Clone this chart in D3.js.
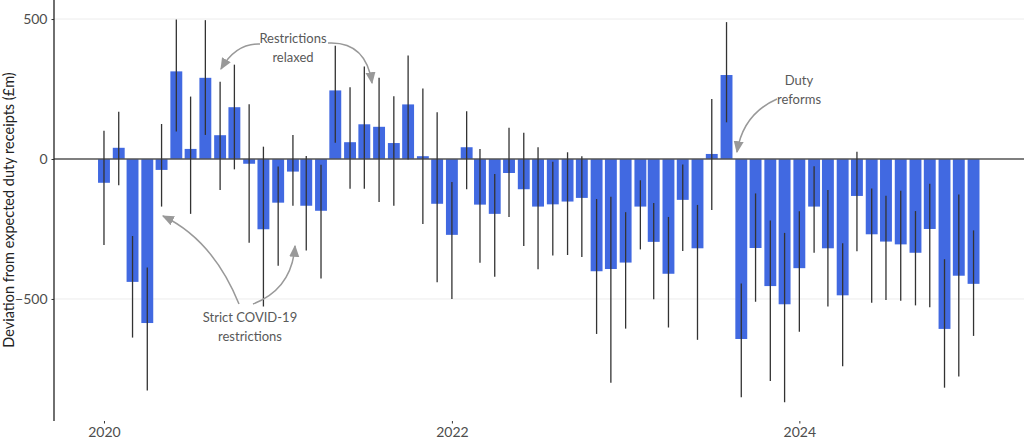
<!DOCTYPE html>
<html>
<head>
<meta charset="utf-8">
<script src="https://cdn.jsdelivr.net/npm/d3@7"></script>
<style>
  html, body { margin: 0; padding: 0; background: #fff; }
  svg { display: block; font-family: Lato, "Open Sans", sans-serif; }
</style>
</head>
<body>
<svg id="chart" width="1024" height="439"></svg>
<script>
// ---- data ----
const months = [
  "2020-01","2020-02","2020-03","2020-04","2020-05","2020-06","2020-07","2020-08","2020-09","2020-10","2020-11","2020-12",
  "2021-01","2021-02","2021-03","2021-04","2021-05","2021-06","2021-07","2021-08","2021-09","2021-10","2021-11","2021-12",
  "2022-01","2022-02","2022-03","2022-04","2022-05","2022-06","2022-07","2022-08","2022-09","2022-10","2022-11","2022-12",
  "2023-01","2023-02","2023-03","2023-04","2023-05","2023-06","2023-07","2023-08","2023-09","2023-10","2023-11","2023-12",
  "2024-01","2024-02","2024-03","2024-04","2024-05","2024-06","2024-07","2024-08","2024-09","2024-10","2024-11","2024-12",
  "2025-01"
];
const deviation = [
  -85, 40, -439, -586, -39, 313, 36, 290, 85, 185, -17, -251,
  -156, -45, -167, -185, 245, 60, 124, 115, 57, 195, 10, -160,
  -271, 42, -163, -196, -50, -108, -170, -162, -152, -139, -401, -393,
  -370, -170, -296, -410, -146, -319, 18, 300, -643, -318, -454, -519,
  -390, -170, -319, -487, -132, -269, -295, -305, -335, -250, -607, -417,
  -446
];
const upper = [
  101, 169, -275, -388, 125, 498, 223, 496, 276, 337, 196, 44,
  -27, 86, 11, -21, 405, 256, 330, 290, 224, 370, 252, 167,
  -82, 171, 36, -54, 112, 94, 42, -10, 24, 10, -143, -135,
  -190, -76, -157, -207, -20, -164, 214, 489, -445, -123, -220, -264,
  -187, -26, -111, -301, 26, -105, -131, -113, -186, -88, -358, -127,
  -255
];
const lower = [
  -307, -94, -638, -827, -170, 98, -196, 86, -111, -37, -299, -527,
  -381, -167, -327, -427, 58, -106, -106, -154, -167, -2, -232, -440,
  -500, -108, -371, -421, -207, -311, -394, -345, -343, -350, -625, -799,
  -606, -323, -501, -602, -329, -646, -182, 131, -851, -510, -793, -869,
  -617, -335, -527, -740, -330, -514, -504, -506, -523, -530, -817, -777,
  -632
];
const yTicks = [-500, 0, 500];
const xTickYears = ["2020", "2022", "2024"];
const annotations = [
  { lines: ["Restrictions", "relaxed"], x: 293, y: 43 },
  { lines: ["Strict COVID-19", "restrictions"], x: 250, y: 322 },
  { lines: ["Duty", "reforms"], x: 799, y: 85 }
];
// arrows: [start, control, end] in pixel space of the annotation layer
const arrows = [
  [[260, 44], [236, 43], [221, 69]],
  [[328, 43], [366, 41], [372, 83]],
  [[239, 304], [213, 240], [163, 216]],
  [[253, 304], [292, 289], [295, 246]],
  [[777, 99], [743, 114], [737, 152]]
];

// ---- chart ----
const parse = d3.timeParse("%Y-%m");
const data = months.map((m, i) => ({
  date: parse(m), value: deviation[i], hi: upper[i], lo: lower[i]
}));

const svg = d3.select("#chart");
const plotLeft = 54, plotRight = 1024, plotTop = 0, plotBottom = 421;

const x = d3.scaleTime()
  .domain([new Date(2019, 8, 18), new Date(2025, 3, 17)])
  .range([plotLeft, plotRight]);
const y = d3.scaleLinear()
  .domain([-936, 568])
  .range([plotBottom, plotTop]);

const barDays = 0.9 * 28;
const barW = x(d3.timeDay.offset(data[0].date, barDays)) - x(data[0].date);

// gridlines
svg.append("g")
  .selectAll("line")
  .data(yTicks.filter(t => t !== 0))
  .join("line")
  .attr("x1", plotLeft).attr("x2", plotRight)
  .attr("y1", d => y(d)).attr("y2", d => y(d))
  .attr("stroke", "#ececec").attr("stroke-width", 1);

// bars
svg.append("g")
  .selectAll("rect")
  .data(data)
  .join("rect")
  .attr("x", d => x(d.date) - barW / 2)
  .attr("width", barW)
  .attr("y", d => y(Math.max(0, d.value)))
  .attr("height", d => Math.abs(y(d.value) - y(0)))
  .attr("fill", "#4169E1");

// zero line
svg.append("line")
  .attr("x1", plotLeft).attr("x2", plotRight)
  .attr("y1", y(0)).attr("y2", y(0))
  .attr("stroke", "#555").attr("stroke-width", 1.3);

// error bars
svg.append("g")
  .selectAll("line")
  .data(data)
  .join("line")
  .attr("x1", d => x(d.date)).attr("x2", d => x(d.date))
  .attr("y1", d => y(d.hi)).attr("y2", d => y(d.lo))
  .attr("stroke", "#333").attr("stroke-width", 1.3);

// y axis
const yAxis = d3.axisLeft(y).tickValues(yTicks).tickSize(2.5).tickPadding(4).tickFormat(d3.format("d"));
const gy = svg.append("g").attr("transform", `translate(${plotLeft},0)`).call(yAxis);
gy.select(".domain").remove();
gy.selectAll(".tick line").attr("stroke", "#333");
gy.selectAll(".tick text").attr("fill", "#4d4d4d").style("font-size", "14px").style("font-family", "Lato");
svg.append("line")
  .attr("x1", plotLeft).attr("x2", plotLeft)
  .attr("y1", plotTop).attr("y2", plotBottom)
  .attr("stroke", "#222").attr("stroke-width", 1.3);

// x axis (ticks only)
const xAxis = d3.axisBottom(x)
  .tickValues(xTickYears.map(s => d3.timeParse("%Y")(s)))
  .tickSize(2.5).tickPadding(4)
  .tickFormat(d3.timeFormat("%Y"));
const gx = svg.append("g").attr("transform", `translate(0,${plotBottom})`).call(xAxis);
gx.select(".domain").remove();
gx.selectAll(".tick line").attr("stroke", "#333");
gx.selectAll(".tick text").attr("fill", "#4d4d4d").style("font-size", "14px").style("font-family", "Lato");

// y axis title
svg.append("text")
  .attr("transform", `translate(13.5,210) rotate(-90)`)
  .attr("text-anchor", "middle")
  .attr("fill", "#222")
  .style("font-size", "14.5px")
  .text("Deviation from expected duty receipts (£m)");

// arrow marker
const defs = svg.append("defs");
defs.append("marker")
  .attr("id", "ah")
  .attr("viewBox", "0 0 10 10")
  .attr("refX", 9).attr("refY", 5)
  .attr("markerUnits", "userSpaceOnUse")
  .attr("markerWidth", 12).attr("markerHeight", 12)
  .attr("orient", "auto")
  .append("path")
  .attr("d", "M0,0.8 L10,5 L0,9.2 Z")
  .attr("fill", "#999");

// arrows
svg.append("g")
  .selectAll("path")
  .data(arrows)
  .join("path")
  .attr("d", a => `M${a[0][0]},${a[0][1]} Q${a[1][0]},${a[1][1]} ${a[2][0]},${a[2][1]}`)
  .attr("fill", "none")
  .attr("stroke", "#999")
  .attr("stroke-width", 1.5)
  .attr("marker-end", "url(#ah)");

// annotation text
const ann = svg.append("g");
annotations.forEach(a => {
  const t = ann.append("text")
    .attr("text-anchor", "middle")
    .attr("fill", "#595959")
    .style("font-size", "13px");
  a.lines.forEach((l, i) => {
    t.append("tspan").attr("x", a.x).attr("y", a.y + i * 18.5).text(l);
  });
});
</script>
</body>
</html>
